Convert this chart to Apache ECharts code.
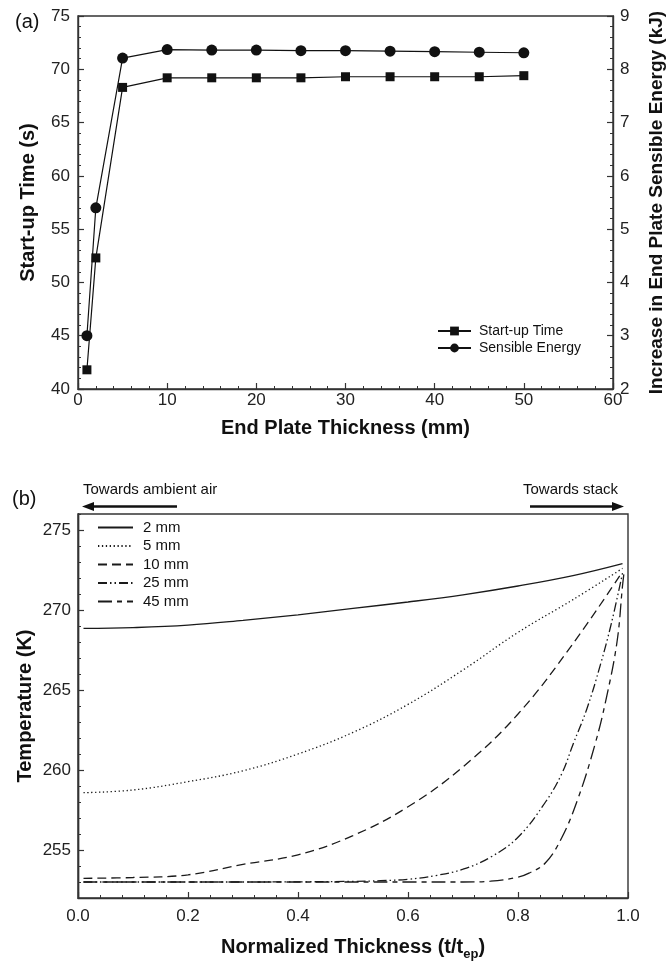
<!DOCTYPE html>
<html>
<head>
<meta charset="utf-8">
<script src="https://cdn.jsdelivr.net/npm/echarts@6/dist/echarts.min.js"></script>
<style>
html,body{margin:0;padding:0;background:#fff;}
#c{width:666px;height:963px;}
</style>
</head>
<body>
<div id="c"></div>
<script>
// ---- (a) data ----
var thickness = [1, 2, 5, 10, 15, 20, 25, 30, 35, 40, 45, 50];
var startupTime = [41.8, 52.3, 68.3, 69.2, 69.2, 69.2, 69.2, 69.3, 69.3, 69.3, 69.3, 69.4];
var sensibleEnergy = [3.0, 5.4, 8.21, 8.37, 8.36, 8.36, 8.35, 8.35, 8.34, 8.33, 8.32, 8.31];
var xTicksA = [0, 10, 20, 30, 40, 50, 60];
var yTicksA = [40, 45, 50, 55, 60, 65, 70, 75];
var y2TicksA = [2, 3, 4, 5, 6, 7, 8, 9];

// ---- (b) data ----
var pos2 = [0.01, 0.1, 0.2, 0.3, 0.4, 0.5, 0.6, 0.7, 0.8, 0.9, 0.99];
var temp2 = [268.85, 268.9, 269.05, 269.35, 269.7, 270.1, 270.5, 270.95, 271.5, 272.15, 272.9];
var pos5 = [0.01, 0.1, 0.2, 0.3, 0.4, 0.5, 0.6, 0.7, 0.8, 0.9, 0.99];
var temp5 = [258.58, 258.75, 259.27, 259.95, 261.0, 262.35, 264.1, 266.25, 268.6, 270.65, 272.6];
var pos10 = [0.01, 0.1, 0.2, 0.3, 0.4, 0.5, 0.6, 0.7, 0.8, 0.9, 0.99];
var temp10 = [253.23, 253.28, 253.45, 254.1, 254.7, 255.9, 257.7, 260.2, 263.5, 267.9, 272.4];
var pos25 = [0.01, 0.1, 0.2, 0.3, 0.4, 0.5, 0.55, 0.6, 0.65, 0.7, 0.75, 0.8, 0.85, 0.88, 0.9, 0.925, 0.95, 0.97, 0.99];
var temp25 = [253.0, 253.0, 253.0, 253.0, 253.01, 253.04, 253.08, 253.17, 253.4, 253.8, 254.55, 255.8, 258.0, 259.8, 261.6, 263.8, 266.6, 269.2, 272.3];
var pos45 = [0.01, 0.1, 0.2, 0.3, 0.4, 0.5, 0.6, 0.7, 0.75, 0.8, 0.82, 0.85, 0.88, 0.91, 0.94, 0.96, 0.98, 0.99, 0.993];
var temp45 = [253.0, 253.0, 253.0, 253.0, 253.0, 253.0, 253.0, 253.0, 253.05, 253.3, 253.55, 254.2, 255.8, 258.3, 261.6, 264.4, 268.0, 271.5, 272.4];
var seriesNamesB = ['2 mm', '5 mm', '10 mm', '25 mm', '45 mm'];
var xTicksB = [0, 0.2, 0.4, 0.6, 0.8, 1.0];
var yTicksB = [255, 260, 265, 270, 275];

function zip(a, b) { return a.map(function (v, i) { return [v, b[i]]; }); }

var FONT = '"Liberation Sans", Arial, sans-serif';
var INK = '#111';
var AX = '#333';
var TICKFS = 17;

function axisCommon() {
  return {
    nameMoveOverlap: false,
    axisLine: { show: true, onZero: false, lineStyle: { color: AX, width: 1.4 } },
    axisTick: { show: true, inside: true, length: 6, lineStyle: { color: AX, width: 1.2 } },
    minorTick: { show: true, splitNumber: 5, length: 3, lineStyle: { color: AX, width: 1 } },
    splitLine: { show: false },
    axisLabel: { color: '#222', fontSize: TICKFS, fontFamily: FONT },
    nameTextStyle: { color: '#111', fontSize: 20, fontWeight: 'bold', fontFamily: FONT }
  };
}
function merge(a, b) { for (var k in b) a[k] = b[k]; return a; }

var chart = echarts.init(document.getElementById('c'), null, { renderer: 'canvas' });

var dashStyles = [
  'solid',
  [1.3, 2.6],
  [9, 5],
  [9, 3, 1.5, 3, 1.5, 3],
  [14, 5, 5, 5]
];
var bPos = [pos2, pos5, pos10, pos25, pos45];
var bTemp = [temp2, temp5, temp10, temp25, temp45];

var seriesB = seriesNamesB.map(function (n, i) {
  return {
    name: n, type: 'line', xAxisIndex: 1, yAxisIndex: 2,
    data: zip(bPos[i], bTemp[i]),
    showSymbol: false, symbol: 'none',
    smooth: 0.4,
    lineStyle: { color: '#1a1a1a', width: 1.3, type: dashStyles[i] },
    itemStyle: { color: '#1a1a1a' },
    z: 3
  };
});

var option = {
  animation: false,
  backgroundColor: '#fff',
  textStyle: { fontFamily: FONT },
  grid: [
    { left: 78, top: 16, width: 535, height: 373, outerBoundsMode: 'none', containLabel: false, show: true, borderColor: AX, borderWidth: 1.4, backgroundColor: 'transparent' },
    { left: 78, top: 514, width: 550, height: 384, outerBoundsMode: 'none', containLabel: false, show: true, borderColor: AX, borderWidth: 1.4, backgroundColor: 'transparent' }
  ],
  xAxis: [
    merge(axisCommon(), {
      type: 'value', gridIndex: 0, min: xTicksA[0], max: xTicksA[xTicksA.length - 1], interval: 10,
      name: 'End Plate Thickness (mm)', nameLocation: 'middle', nameGap: 29,
      axisLabel: { color: '#222', fontSize: TICKFS, fontFamily: FONT, margin: 3 }
    }),
    merge(axisCommon(), {
      type: 'value', gridIndex: 1, min: xTicksB[0], max: xTicksB[xTicksB.length - 1], interval: 0.2,
      name: 'Normalized Thickness (t/t{sub|ep})', nameLocation: 'middle', nameGap: 36,
      axisLabel: { color: '#222', fontSize: TICKFS, fontFamily: FONT, margin: 10, formatter: function (v) { return v.toFixed(1); } },
      nameTextStyle: {
        color: '#111', fontSize: 20, fontWeight: 'bold', fontFamily: FONT,
        rich: { sub: { fontSize: 13, fontWeight: 'bold', fontFamily: FONT, color: '#111', verticalAlign: 'bottom', padding: [14, 0, 0, 0] } }
      }
    })
  ],
  yAxis: [
    merge(axisCommon(), {
      type: 'value', gridIndex: 0, position: 'left', min: yTicksA[0], max: yTicksA[yTicksA.length - 1], interval: 5,
      name: 'Start-up Time (s)', nameLocation: 'middle', nameGap: 40,
      axisLabel: { color: '#222', fontSize: TICKFS, fontFamily: FONT, margin: 8 }
    }),
    merge(axisCommon(), {
      type: 'value', gridIndex: 0, position: 'right', min: y2TicksA[0], max: y2TicksA[y2TicksA.length - 1], interval: 1,
      name: 'Increase in End Plate Sensible Energy (kJ)', nameLocation: 'middle', nameGap: 34,
      nameTextStyle: { color: '#111', fontSize: 19, fontWeight: 'bold', fontFamily: FONT },
      axisLabel: { color: '#222', fontSize: TICKFS, fontFamily: FONT, margin: 7 }
    }),
    merge(axisCommon(), {
      type: 'value', gridIndex: 1, position: 'left', min: 252, max: 276, interval: 1,
      axisTick: { show: true, inside: true, length: 3, lineStyle: { color: AX, width: 1 } },
      minorTick: { show: false },
      axisLabel: { show: false }
    }),
    merge(axisCommon(), {
      type: 'value', gridIndex: 1, position: 'left', min: 252, max: 276, interval: 1,
      name: 'Temperature (K)', nameLocation: 'middle', nameGap: 43,
      axisTick: { show: true, inside: true, length: 6, customValues: yTicksB, lineStyle: { color: AX, width: 1.2 } },
      minorTick: { show: false },
      axisLabel: { color: '#222', fontSize: TICKFS, fontFamily: FONT, margin: 7, customValues: yTicksB }
    })
  ],
  legend: [
    {
      left: 432, top: 319, orient: 'vertical', itemWidth: 33, itemHeight: 11, itemGap: 3,
      textStyle: { fontSize: 14, color: '#111', fontFamily: FONT, padding: [0, 0, 0, 3] },
      data: ['Start-up Time', 'Sensible Energy']
    },
    {
      left: 92, top: 515, orient: 'vertical', itemWidth: 35, itemHeight: 8, itemGap: 3.5,
      textStyle: { fontSize: 15, color: '#111', fontFamily: FONT, padding: [0, 0, 0, 5] },
      itemStyle: { opacity: 0 },
      data: seriesNamesB
    }
  ],
  series: [
    {
      name: 'Start-up Time', type: 'line', xAxisIndex: 0, yAxisIndex: 0,
      data: zip(thickness, startupTime),
      symbol: 'rect', symbolSize: 9,
      lineStyle: { color: INK, width: 1.2 }, itemStyle: { color: INK }
    },
    {
      name: 'Sensible Energy', type: 'line', xAxisIndex: 0, yAxisIndex: 1,
      data: zip(thickness, sensibleEnergy),
      symbol: 'circle', symbolSize: 11,
      lineStyle: { color: INK, width: 1.2 }, itemStyle: { color: INK }
    }
  ].concat(seriesB),
  graphic: [
    { type: 'text', left: 15, top: 12, style: { text: '(a)', fontSize: 20, fill: '#111', fontFamily: FONT } },
    { type: 'text', left: 12, top: 489, style: { text: '(b)', fontSize: 20, fill: '#111', fontFamily: FONT } },
    { type: 'text', left: 83, top: 482, style: { text: 'Towards ambient air', fontSize: 15, fill: '#111', fontFamily: FONT } },
    { type: 'text', left: 523, top: 482, style: { text: 'Towards stack', fontSize: 15, fill: '#111', fontFamily: FONT } },
    { type: 'line', shape: { x1: 177, y1: 506.5, x2: 92, y2: 506.5 }, style: { stroke: '#111', lineWidth: 2.4 } },
    { type: 'polygon', shape: { points: [[82, 506.5], [94, 502], [94, 511]] }, style: { fill: '#111' } },
    { type: 'line', shape: { x1: 530, y1: 506.5, x2: 614, y2: 506.5 }, style: { stroke: '#111', lineWidth: 2.4 } },
    { type: 'polygon', shape: { points: [[624, 506.5], [612, 502], [612, 511]] }, style: { fill: '#111' } }
  ]
};
chart.setOption(option);
</script>
</body>
</html>
